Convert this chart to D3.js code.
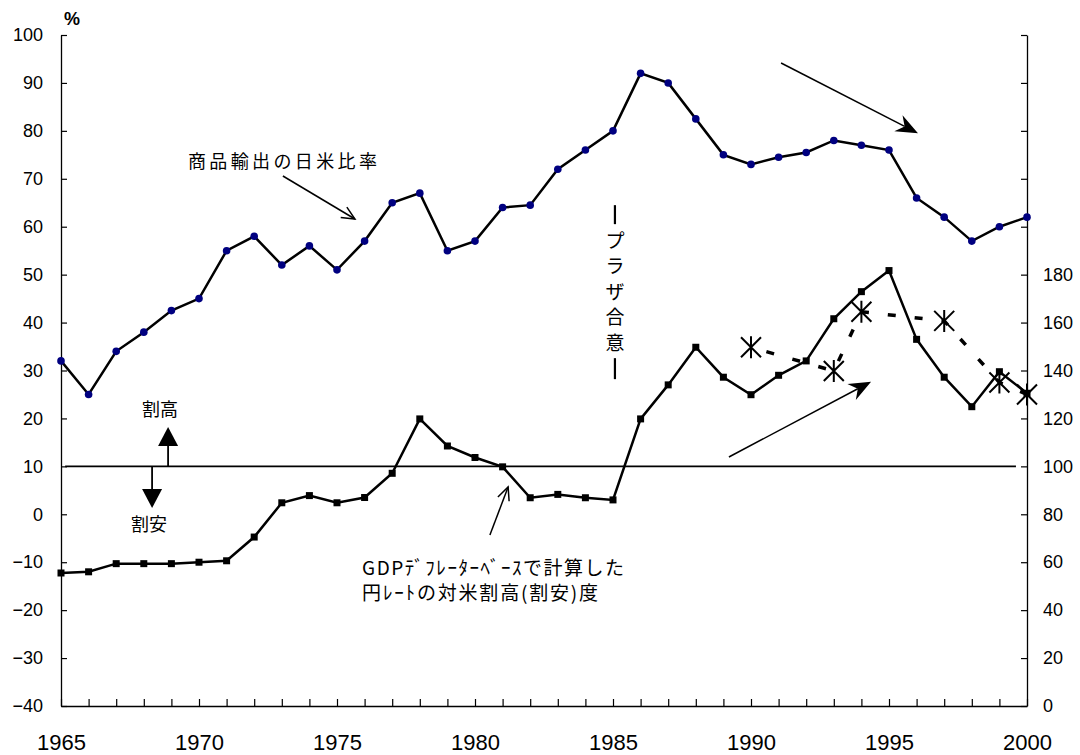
<!DOCTYPE html>
<html>
<head>
<meta charset="utf-8">
<script src="https://cdn.jsdelivr.net/npm/d3@7"></script>
<style>
  body { margin: 0; background: #fff; }
  .num { font-family: "Liberation Sans", Arial, sans-serif; }
  .jp { font-family: "Noto Sans CJK JP", sans-serif; }
</style>
</head>
<body>
<svg id="chart"></svg>
<script>
const width  = 1080
const height = 755

// years on the x axis
const years = d3.range(1965, 2001)

// 商品輸出の日米比率 (%), left axis
const exportRatio = [32, 25, 34, 38, 42.5, 45, 55, 58, 52, 56, 51, 57, 65, 67, 55, 57, 64, 64.5,
                     72, 76, 80, 92, 90, 82.5, 75, 73, 74.5, 75.5, 78, 77, 76, 66, 62, 57, 60, 62]

// 円レートの対米割高度 (index, right axis, 100 = parity)
const yenIndex = [55.5, 56, 59.4, 59.4, 59.4, 60, 60.6, 70.5, 84.8, 87.8, 84.8, 87, 97.1, 119.8,
                  108.5, 103.7, 99.8, 86.9, 88.3, 86.9, 86, 119.8, 134, 149.7, 137.2, 129.9,
                  138, 144, 161.6, 172.9, 181.7, 153, 137.2, 124.9, 139.5, 130.5]

// second estimate (asterisks, dashed), right axis
const starYears = [1990, 1993, 1994, 1997, 1999, 2000]
const starIndex = [149.7, 139.8, 164.5, 160.7, 135, 130]

const leftTicks  = d3.range(-40, 101, 10)
const rightTicks = d3.range(0, 281, 20)
const parity = 100

// annotation arrows in data units: [year1, left1, year2, left2, kind]
const arrows = [
  [1991.09, 94.16, 1996.05, 79.49, "notch"],
  [1989.20, 11.95, 1994.35, 27.66, "notch"],
  [1973.04, 70.58, 1975.65, 61.61, "open"],
  [1980.54, -4.32, 1981.20, 5.69, "open"],
  [1968.88, 10, 1968.88, 18.21, "tri"],
  [1968.30, 10, 1968.30, 1.31, "tri"]
]

const svg = d3.select("#chart")
    .attr("width", width)
    .attr("height", height)

const x = d3.scaleLinear().domain([1965, 2000]).range([61, 1027])
const yL = d3.scaleLinear().domain([-40, 100]).range([706, 35])
const yR = d3.scaleLinear().domain([0, 280]).range([706, 35])

// axes
const styleAxis = (g, size) => {
    g.select(".domain").attr("stroke", "#000").attr("stroke-width", 1.3)
    g.selectAll(".tick line").attr("stroke", "#000").attr("stroke-width", 1.2)
    g.selectAll("text").attr("class", "num").attr("fill", "#000").style("font-size", size + "px")
    g.attr("font-family", null)
}

svg.append("g")
    .attr("transform", `translate(${x(1965)},0)`)
    .call(d3.axisLeft(yL).tickValues(leftTicks).tickSizeInner(-6).tickSizeOuter(0).tickPadding(18))
    .call(g => styleAxis(g, 18))

svg.append("g")
    .attr("transform", `translate(${x(2000)},0)`)
    .call(d3.axisRight(yR).tickValues(rightTicks).tickSizeInner(-6).tickSizeOuter(0).tickPadding(16)
        .tickFormat(d => d <= 180 ? d : ""))
    .call(g => styleAxis(g, 18))

svg.append("g")
    .attr("transform", `translate(0,${yL(-40)})`)
    .call(d3.axisBottom(x).tickValues(years).tickSizeInner(-7).tickSizeOuter(0).tickPadding(28)
        .tickFormat(d => d % 5 === 0 ? d : ""))
    .call(g => styleAxis(g, 22))

// parity line
svg.append("line")
    .attr("x1", x(1965.15)).attr("x2", x(1999.6))
    .attr("y1", yR(parity)).attr("y2", yR(parity))
    .attr("stroke", "#000").attr("stroke-width", 1.8)

// export ratio series
const lineL = d3.line().x((d, i) => x(years[i])).y(d => yL(d))
svg.append("path")
    .attr("d", lineL(exportRatio))
    .attr("fill", "none").attr("stroke", "#000").attr("stroke-width", 2.5)
svg.append("g").selectAll("circle")
    .data(exportRatio)
    .enter().append("circle")
    .attr("cx", (d, i) => x(years[i]))
    .attr("cy", d => yL(d))
    .attr("r", 3.8)
    .attr("fill", "#000080")

// yen index series
const lineR = d3.line().x((d, i) => x(years[i])).y(d => yR(d))
svg.append("path")
    .attr("d", lineR(yenIndex))
    .attr("fill", "none").attr("stroke", "#000").attr("stroke-width", 2.5)
svg.append("g").selectAll("rect")
    .data(yenIndex)
    .enter().append("rect")
    .attr("x", (d, i) => x(years[i]) - 3.5)
    .attr("y", d => yR(d) - 3.5)
    .attr("width", 7).attr("height", 7)
    .attr("fill", "#000")

// asterisk series
const lineS = d3.line().x((d, i) => x(starYears[i])).y(d => yR(d))
svg.append("path")
    .attr("d", lineS(starIndex))
    .attr("fill", "none").attr("stroke", "#000").attr("stroke-width", 3.5)
    .attr("stroke-dasharray", "8,19").attr("stroke-dashoffset", -16)
svg.append("g").selectAll("path")
    .data(starIndex)
    .enter().append("path")
    .attr("transform", (d, i) => `translate(${x(starYears[i])},${yR(d)})`)
    .attr("d", "M-10,-10L10,10M-10,10L10,-10M0,-11L0,11")
    .attr("stroke", "#000").attr("stroke-width", 2).attr("fill", "none")

// arrows
const drawArrow = (a) => {
    const x1 = x(a[0]), y1 = yL(a[1]), x2 = x(a[2]), y2 = yL(a[3])
    const ang = Math.atan2(y2 - y1, x2 - x1)
    const cos = Math.cos(ang), sin = Math.sin(ang)
    const pt = (l, w) => [x2 - l * cos - w * sin, y2 - l * sin + w * cos]
    let len, hw, back
    if (a[4] === "notch") { len = 22; hw = 9; back = 15 }
    else if (a[4] === "tri") { len = 19; hw = 10; back = 19 }
    else { len = 13; hw = 6; back = 0 }
    const end = a[4] === "open" ? [x2, y2] : pt(back, 0)
    svg.append("line")
        .attr("x1", x1).attr("y1", y1).attr("x2", end[0]).attr("y2", end[1])
        .attr("stroke", "#000").attr("stroke-width", a[4] === "tri" ? 1.8 : 1.5)
    if (a[4] === "open") {
        svg.append("path")
            .attr("d", "M" + pt(len, -hw) + "L" + x2 + "," + y2 + "L" + pt(len, hw))
            .attr("fill", "none").attr("stroke", "#000").attr("stroke-width", 1.5)
    } else {
        svg.append("path")
            .attr("d", "M" + x2 + "," + y2 + "L" + pt(len, -hw) + "L" + pt(back, 0) + "L" + pt(len, hw) + "Z")
            .attr("fill", "#000")
    }
}
arrows.forEach(drawArrow)

// texts
svg.append("text").attr("class", "num")
    .attr("x", x(1965.4)).attr("y", yL(102.1))
    .attr("text-anchor", "middle").style("font-size", "18px").style("font-weight", "bold")
    .text("%")

svg.append("text").attr("class", "jp")
    .attr("x", x(1969.6)).attr("y", yL(72.25))
    .attr("textLength", 189).attr("lengthAdjust", "spacing")
    .style("font-size", "18px")
    .text("商品輸出の日米比率")

svg.append("text").attr("class", "jp")
    .attr("x", x(1968.59)).attr("y", yL(20.5))
    .attr("text-anchor", "middle").style("font-size", "18px")
    .text("割高")

svg.append("text").attr("class", "jp")
    .attr("x", x(1968.19)).attr("y", yL(-3.49))
    .attr("text-anchor", "middle").style("font-size", "18px")
    .text("割安")

svg.append("text").attr("class", "jp")
    .attr("x", x(1975.91)).attr("y", yL(-12.67))
    .attr("textLength", 262).attr("lengthAdjust", "spacing")
    .style("font-size", "19px")
    .text("GDPﾃﾞﾌﾚｰﾀｰﾍﾞｰｽで計算した")

svg.append("text").attr("class", "jp")
    .attr("x", x(1975.91)).attr("y", yL(-17.88))
    .attr("textLength", 236).attr("lengthAdjust", "spacing")
    .style("font-size", "19px")
    .text("円ﾚｰﾄの対米割高(割安)度")

// プラザ合意 (vertical)
const plaza = svg.append("g")
    .attr("transform", `translate(${x(1985.07)},${yL(64.5)})`)
plaza.append("line").attr("x1", 0).attr("x2", 0).attr("y1", 0).attr("y2", 19)
    .attr("stroke", "#000").attr("stroke-width", 2.2)
plaza.append("line").attr("x1", 0).attr("x2", 0).attr("y1", 153).attr("y2", 174)
    .attr("stroke", "#000").attr("stroke-width", 2.2)
plaza.selectAll("text")
    .data(["プ", "ラ", "ザ", "合", "意"])
    .enter().append("text")
    .attr("class", "jp")
    .attr("x", 0)
    .attr("y", (d, i) => 36 + i * 25.5)
    .attr("dy", "0.35em")
    .attr("text-anchor", "middle")
    .style("font-size", "19px")
    .text(d => d)
</script>
</body>
</html>
